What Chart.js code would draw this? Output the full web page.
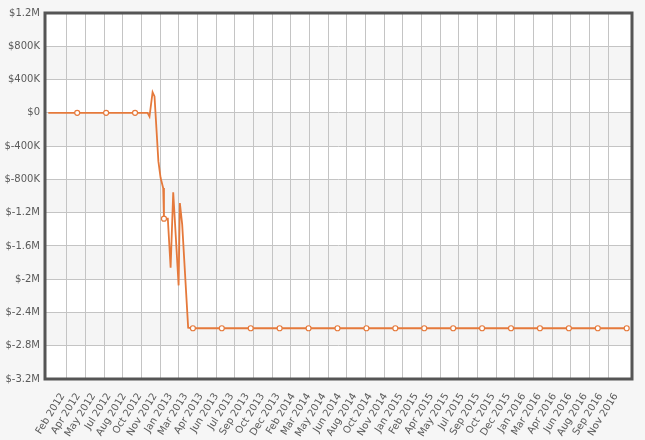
<!DOCTYPE html>
<html>
<head>
<meta charset="utf-8">
<script src="https://cdn.jsdelivr.net/npm/chart.js@4/dist/chart.umd.min.js"></script>
<style>
  html, body { margin: 0; padding: 0; background: #f6f6f6; }
  #wrap { width: 645px; height: 440px; }
</style>
</head>
<body>
<div id="wrap"><canvas id="GraficaCanvas" width="645" height="440"></canvas></div>
<script>
// x = months since Jan 2012
const meses = [0, 3, 6, 9, 10.3, 10.5, 10.82, 11.02, 11.42, 11.65, 11.92, 12, 12.4, 12.69, 12.96, 13.52, 13.65, 13.89, 14.51, 15,
  18, 21, 24, 27, 30, 33, 36, 39, 42, 45, 48, 51, 54, 57, 60];
const saldo = [0, 0, 0, 0, 0, -45000, 248000, 197000, -581000, -781000, -904000, -1273000, -1273000, -1862000, -955000, -2075000, -1085000, -1342000, -2583000, -2590000,
  -2590000, -2590000, -2590000, -2590000, -2590000, -2590000, -2590000, -2590000, -2590000, -2590000, -2590000, -2590000, -2590000, -2590000, -2590000];
const mesesMarcador = [3, 6, 9, 12, 15, 18, 21, 24, 27, 30, 33, 36, 39, 42, 45, 48, 51, 54, 57, 60];

const etiquetasX = ["Feb 2012", "Apr 2012", "May 2012", "Jul 2012", "Aug 2012", "Oct 2012", "Nov 2012",
  "Jan 2013", "Mar 2013", "Apr 2013", "Jun 2013", "Jul 2013", "Sep 2013", "Oct 2013", "Dec 2013",
  "Feb 2014", "Mar 2014", "May 2014", "Jun 2014", "Aug 2014", "Oct 2014", "Nov 2014",
  "Jan 2015", "Feb 2015", "Apr 2015", "May 2015", "Jul 2015", "Sep 2015", "Oct 2015", "Dec 2015",
  "Jan 2016", "Mar 2016", "Apr 2016", "Jun 2016", "Aug 2016", "Sep 2016", "Nov 2016"];
const inicioEtiquetas = 1.5;
const pasoEtiquetas = 1.594;
const lineasGrid = 31; // vertical grid splits 0..60 into 31 parts

const etiquetasY = ["$1.2M", "$800K", "$400K", "$0", "$-400K", "$-800K", "$-1.2M", "$-1.6M", "$-2M", "$-2.4M", "$-2.8M", "$-3.2M"];

const colorLinea = "#e5793b";
const fuente = { family: "'DejaVu Sans', Verdana, sans-serif", size: 10 };

const fondoPlugin = {
  id: "fondo",
  beforeDraw(chart) {
    const { ctx, chartArea, scales } = chart;
    ctx.save();
    ctx.fillStyle = "#f6f6f6";
    ctx.fillRect(0, 0, chart.width, chart.height);
    ctx.fillStyle = "#ffffff";
    ctx.fillRect(chartArea.left, chartArea.top, chartArea.right - chartArea.left, chartArea.bottom - chartArea.top);
    const ticks = scales.y.ticks;
    ctx.fillStyle = "#f5f5f5";
    for (let i = 0; i < ticks.length - 1; i++) {
      if (i % 2 === 1) {
        const y1 = scales.y.getPixelForValue(ticks[i].value);
        const y2 = scales.y.getPixelForValue(ticks[i + 1].value);
        ctx.fillRect(chartArea.left, Math.min(y1, y2), chartArea.right - chartArea.left, Math.abs(y2 - y1));
      }
    }
    ctx.restore();
  },
  afterDraw(chart) {
    const { ctx, chartArea } = chart;
    ctx.save();
    ctx.strokeStyle = "#555555";
    ctx.lineWidth = 3;
    ctx.strokeRect(chartArea.left, chartArea.top, chartArea.right - chartArea.left, chartArea.bottom - chartArea.top);
    ctx.restore();
  },
};

const puntos = meses.map((m, i) => ({ x: m, y: saldo[i] }));

new Chart(document.getElementById("GraficaCanvas").getContext("2d"), {
  type: "line",
  data: {
    datasets: [
      {
        label: "Saldo",
        data: puntos,
        borderColor: colorLinea,
        borderWidth: 1.8,
        tension: 0,
        fill: false,
        pointRadius: (ctx) => (ctx.raw && mesesMarcador.includes(ctx.raw.x) ? 2.5 : 0),
        pointBackgroundColor: "#ffffff",
        pointBorderColor: colorLinea,
        pointBorderWidth: 1.2,
      },
    ],
  },
  options: {
    responsive: false,
    animation: false,
    events: [],
    layout: { padding: { left: 0, top: 13, right: 13, bottom: 0 } },
    plugins: { legend: { display: false }, tooltip: { enabled: false }, title: { display: false } },
    scales: {
      x: {
        type: "linear",
        position: "bottom",
        min: -0.34,
        max: 60.55,
        grid: { display: false },
        border: { display: false },
        afterBuildTicks: (scale) => {
          scale.ticks = etiquetasX.map((_, i) => ({ value: inicioEtiquetas + i * pasoEtiquetas }));
        },
        afterFit: (scale) => { scale.height = 61; },
        ticks: {
          autoSkip: false,
          minRotation: 58,
          maxRotation: 58,
          padding: 4,
          color: "#5a5a5a",
          font: fuente,
          callback: (value, index) => etiquetasX[index],
        },
      },
      xg: {
        type: "linear",
        position: "bottom",
        min: -0.34,
        max: 60.55,
        afterBuildTicks: (scale) => {
          const t = [];
          for (let k = 1; k < lineasGrid; k++) t.push({ value: (60 * k) / lineasGrid });
          scale.ticks = t;
        },
        afterFit: (scale) => { scale.height = 0; },
        grid: { color: "#c4c4c4", lineWidth: 1, drawTicks: false },
        border: { display: false },
        ticks: { display: false },
      },
      y: {
        min: -3200000,
        max: 1200000,
        afterBuildTicks: (scale) => {
          scale.ticks = etiquetasY.map((_, i) => ({ value: 1200000 - i * 400000 }));
        },
        afterFit: (scale) => { scale.width = 45; },
        grid: { color: "#c4c4c4", lineWidth: 1, drawTicks: false },
        border: { display: false },
        ticks: {
          padding: 5,
          color: "#5a5a5a",
          font: fuente,
          callback: (value, index) => etiquetasY[index],
        },
      },
    },
  },
  plugins: [fondoPlugin],
});
</script>
</body>
</html>
